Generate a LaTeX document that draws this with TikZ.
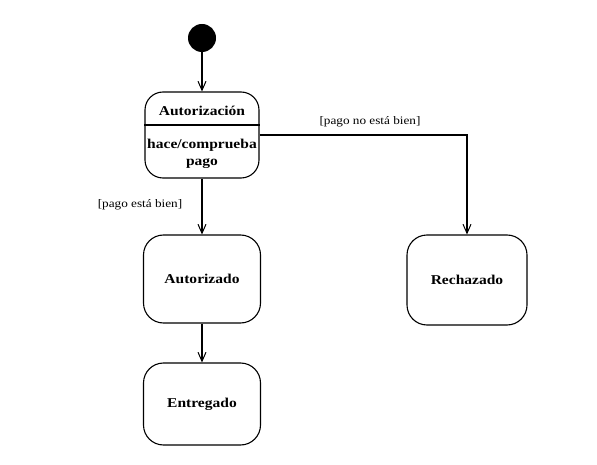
\documentclass[tikz,border=0pt]{standalone}
\usepackage{fontspec}
\setmainfont{Liberation Serif}[FakeStretch=1.15]
\usetikzlibrary{arrows.meta}
\begin{document}
\begin{tikzpicture}[x=1pt,y=-1pt,
  state/.style={draw, line width=1.1pt, rounded corners=20pt, minimum width=117pt, minimum height=88pt, font=\fontsize{13.5}{15}\selectfont\bfseries},
  trans/.style={draw, line width=1.1pt, -{Straight Barb[length=9pt,width=8pt,line width=1pt]}},
  guard/.style={font=\fontsize{11.5}{13}\selectfont}]
  \useasboundingbox (0,0) rectangle (597,465);
  % initial pseudo-state
  \node[circle, fill=black, minimum size=28pt, inner sep=0pt] (init) at (202,38) {};
  % composite state with activity compartment
  \node[draw, line width=1.1pt, rounded corners=18pt, minimum width=114pt, minimum height=86pt] (auth) at (202,135) {};
  \draw[line width=1.4pt] (auth.west |- 0,125) -- (auth.east |- 0,125);
  \node[font=\fontsize{13.5}{15}\selectfont\bfseries] (authname) at (202,111) {Autorización};
  \node[font=\fontsize{13.5}{17}\selectfont\bfseries, align=center, inner sep=0pt] (authdo) at (202,154) {hace/comprueba\\pago};
  % states
  \node[state] (ok) at (202,279) {Autorizado};
  \node[state, minimum height=82pt] (del) at (202,404) {Entregado};
  \node[state, minimum width=120pt, minimum height=90pt] (rej) at (467,280) {Rechazado};
  % transitions
  \draw[trans] (init) -- (auth);
  \draw[trans] (auth) -- (ok);
  \draw[trans] (ok) -- (del);
  \draw[trans] (auth.east) -| (rej.north);
  % guards
  \node[guard] (gok) at (140,205) {[pago está bien]};
  \node[guard] (grej) at (370,122) {[pago no está bien]};
\end{tikzpicture}
\end{document}
